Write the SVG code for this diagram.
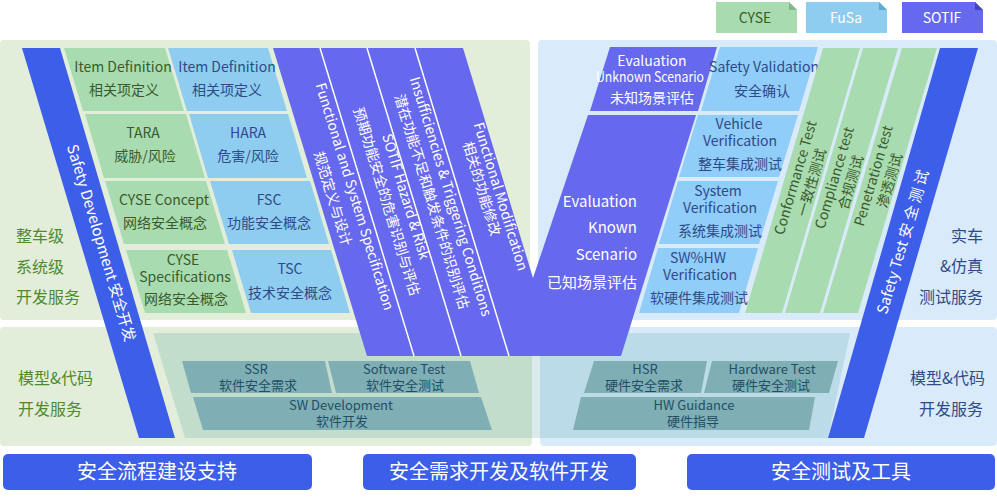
<svg xmlns="http://www.w3.org/2000/svg" width="997" height="500" viewBox="0 0 997 500">
<style>
text{font-family:"Noto Sans CJK SC","Noto Sans",sans-serif;font-size:14px;text-anchor:middle}
.g{fill:#a8dcb0}.b{fill:#8ecdf0}.rb{fill:#90cdf8}.p{fill:#6668ee}.bl{fill:#3c5ee8}.t{fill:#80aeb5}
.tg{fill:#3b5a2b}.tb{fill:#2e4a8a}.tw{fill:#fff}.tt{fill:#1f4f66;font-size:13px}
.lg{fill:#4f8a2e;font-size:16px;text-anchor:start}.lb{fill:#2e4a8a;font-size:16px;text-anchor:end}
.ke{fill:#fff;font-size:15px;text-anchor:end}
.btn{fill:#fff;font-size:20px}
</style>
<rect width="997" height="500" fill="#fff"/>
<g id="legend">
<path d="M716 2h73l8 8v23h-81z" class="g"/><path d="M789 2v8h8z" fill="#7fb98a"/>
<text x="755" y="23" class="tg">CYSE</text>
<path d="M806 2h73l8 8v23h-81z" class="b"/><path d="M879 2v8h8z" fill="#5fa8d0"/>
<text x="846" y="23" class="tw">FuSa</text>
<path d="M902 2h73l8 8v23h-81z" class="p"/><path d="M975 2v8h8z" fill="#4446c0"/>
<text x="942" y="23" class="tw">SOTIF</text>
</g>
<g id="panels">
<rect x="0" y="40" width="530" height="280" rx="4" fill="#e2eed9"/>
<rect x="538" y="40" width="459" height="280" rx="4" fill="#d9ebfa"/>
<rect x="0" y="327" width="532" height="119" rx="4" fill="#e2eed9"/>
<rect x="540" y="327" width="457" height="119" rx="4" fill="#d9ebfa"/>
<polygon points="153,333 850,333 828,438 185,438" fill="#4a9aa0" opacity="0.2"/>
</g>
<g id="labels">
<text x="16" y="242" class="lg">整车级</text>
<text x="16" y="273" class="lg">系统级</text>
<text x="16" y="303" class="lg">开发服务</text>
<text x="18" y="384" class="lg">模型&amp;代码</text>
<text x="18" y="415" class="lg">开发服务</text>
<text x="983" y="242" class="lb">实车</text>
<text x="983" y="272" class="lb">&amp;仿真</text>
<text x="983" y="303" class="lb">测试服务</text>
<text x="985" y="384" class="lb">模型&amp;代码</text>
<text x="983" y="415" class="lb">开发服务</text>
</g>
<g id="cyse-cells">
<polygon points="64,48 165,48 184,111 83,111" class="g"/>
<text x="123" y="72" class="tg">Item Definition</text><text x="124" y="95" class="tg">相关项定义</text>
<polygon points="85,114 186,114 205,178 104,178" class="g"/>
<text x="143" y="138" class="tg">TARA</text><text x="145" y="161" class="tg">威胁/风险</text>
<polygon points="105,181 206,181 225,244 124,244" class="g"/>
<text x="164" y="205" class="tg">CYSE Concept</text><text x="165" y="228" class="tg">网络安全概念</text>
<polygon points="126,250 227,250 246,313 145,313" class="g"/>
<text x="183" y="265" class="tg">CYSE</text><text x="185" y="282" class="tg">Specifications</text><text x="186" y="304" class="tg">网络安全概念</text>
</g>
<g id="fusa-cells">
<polygon points="168,48 268,48 287,111 187,111" class="b"/>
<text x="227" y="72" class="tb">Item Definition</text><text x="227" y="95" class="tb">相关项定义</text>
<polygon points="189,114 288,114 307,178 208,178" class="b"/>
<text x="248" y="138" class="tb">HARA</text><text x="248" y="161" class="tb">危害/风险</text>
<polygon points="210,181 310,181 329,244 229,244" class="b"/>
<text x="269" y="205" class="tb">FSC</text><text x="269" y="228" class="tb">功能安全概念</text>
<polygon points="232,250 331,250 350,313 251,313" class="b"/>
<text x="290" y="274" class="tb">TSC</text><text x="290" y="298" class="tb">技术安全概念</text>
</g>
<g id="sw-hw">
<polygon points="182,361 325,361 332,393 191,393" class="t"/>
<text x="256" y="374" class="tt">SSR</text><text x="258" y="390" class="tt">软件安全需求</text>
<polygon points="328,361 470,361 479,393 336,393" class="t"/>
<text x="404" y="374" class="tt">Software Test</text><text x="405" y="390" class="tt">软件安全测试</text>
<polygon points="193,397 481,397 492,430 203,430" class="t"/>
<text x="341" y="410" class="tt">SW Development</text><text x="342" y="426" class="tt">软件开发</text>
<polygon points="594,361 707,361 701,393 584,393" class="t"/>
<text x="645" y="374" class="tt">HSR</text><text x="644" y="390" class="tt">硬件安全需求</text>
<polygon points="712,361 838,361 829,393 704,393" class="t"/>
<text x="772" y="374" class="tt">Hardware Test</text><text x="771" y="390" class="tt">硬件安全测试</text>
<polygon points="581,397 815,397 809,430 573,430" class="t"/>
<text x="694" y="410" class="tt">HW Guidance</text><text x="693" y="426" class="tt">硬件指导</text>
</g>
<g id="sotif">
<polygon points="273,48 463,48 533,278 588,115 696,115 621,356 367,356" class="p"/>
<g stroke="#fff" stroke-width="1.5"><line x1="320" y1="48" x2="414" y2="356"/><line x1="367" y1="48" x2="461" y2="356"/><line x1="415" y1="48" x2="509" y2="356"/></g>
<text transform="translate(350,198) rotate(73)" class="tw">Functional and System Specification</text>
<text transform="translate(328,200) rotate(73)" class="tw">规范定义与设计</text>
<text transform="translate(401,198) rotate(73)" class="tw">SOTIF Hazard &amp; Risk</text>
<text transform="translate(382,203) rotate(73)" class="tw">预期功能安全的危害识别与评估</text>
<text transform="translate(446,198) rotate(73)" class="tw">Insufficiencies &amp; Triggering Conditions</text>
<text transform="translate(427,203) rotate(73)" class="tw">潜在功能不足和触发条件的识别评估</text>
<text transform="translate(496,198) rotate(73)" class="tw">Functional Modification</text>
<text transform="translate(477,190) rotate(73)" class="tw">相关的功能修改</text>
<polygon points="610,47 717,47 698,111 590,111" class="p"/>
<text x="652" y="66" class="tw">Evaluation</text>
<text x="650" y="82" class="tw" textLength="108" lengthAdjust="spacingAndGlyphs">Unknown Scenario</text>
<text x="652" y="103" class="tw">未知场景评估</text>
<text x="637" y="207" class="ke">Evaluation</text><text x="637" y="233" class="ke">Known</text><text x="637" y="260" class="ke">Scenario</text><text x="637" y="288" class="ke">已知场景评估</text>
</g>
<g id="verification">
<polygon points="720,47 818,47 799,111 701,111" class="rb"/>
<text x="764" y="72" class="tb">Safety Validation</text><text x="762" y="96" class="tb">安全确认</text>
<polygon points="698,115 798,115 779,177 679,177" class="rb"/>
<text x="739" y="129" class="tb">Vehicle</text><text x="740" y="146" class="tb">Verification</text><text x="740" y="169" class="tb">整车集成测试</text>
<polygon points="678,181 778,181 759,244 659,244" class="rb"/>
<text x="718" y="196" class="tb">System</text><text x="720" y="213" class="tb">Verification</text><text x="720" y="236" class="tb">系统集成测试</text>
<polygon points="658,248 758,248 739,313 639,313" class="rb"/>
<text x="698" y="263" class="tb">SW%HW</text><text x="700" y="280" class="tb">Verification</text><text x="699" y="303" class="tb">软硬件集成测试</text>
</g>
<g id="tests">
<polygon points="823,48 860,48 782,313 745,313" class="g"/>
<polygon points="863,48 898,48 820,313 785,313" class="g"/>
<polygon points="902,48 937,48 858,313 823,313" class="g"/>
<g transform="translate(803,180) rotate(-73.6)"><text y="-3" class="tg">Conformance Test</text><text y="14" class="tg">一致性测试</text></g>
<g transform="translate(842,180) rotate(-73.6)"><text y="-3" class="tg">Compliance test</text><text y="14" class="tg">合规测试</text></g>
<g transform="translate(881,178) rotate(-73.6)"><text y="-3" class="tg">Penetration test</text><text y="14" class="tg">渗透测试</text></g>
</g>
<g id="bands">
<polygon points="22,48 60,48 175,438 139,438" class="bl"/>
<text transform="translate(101,243) rotate(73.3)" class="tw" dy="5" style="font-size:15px">Safety Development 安全开发</text>
<polygon points="940,48 978,48 864,438 828,438" class="bl"/>
<text transform="translate(903,242) rotate(-73.6)" class="tw" dy="5" style="font-size:15px">Safety Test 安 全 测 试</text>
</g>
<g id="buttons">
<rect x="3" y="454" width="309" height="36" rx="5" class="bl"/>
<text x="157" y="479" class="btn">安全流程建设支持</text>
<rect x="363" y="454" width="273" height="36" rx="5" class="bl"/>
<text x="499" y="479" class="btn">安全需求开发及软件开发</text>
<rect x="687" y="454" width="308" height="36" rx="5" class="bl"/>
<text x="841" y="479" class="btn">安全测试及工具</text>
</g>
</svg>
